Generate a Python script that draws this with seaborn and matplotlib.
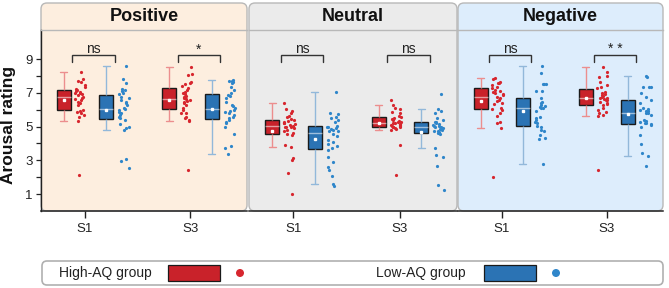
import numpy as np
import pandas as pd
import matplotlib
matplotlib.use("Agg")
import matplotlib.pyplot as plt
import seaborn as sns
from matplotlib.patches import FancyBboxPatch, Rectangle, Circle

# ---------------- data ----------------
valences = ["Positive", "Neutral", "Negative"]
sessions = ["S1", "S3"]
groups = ["High-AQ group", "Low-AQ group"]
sig_labels = {"Positive": ["ns", "*"], "Neutral": ["ns", "ns"], "Negative": ["ns", "* *"]}

pos_s1_high = [8.26, 7.82, 7.72, 7.65, 7.47, 7.37, 7.23, 7.17, 7.13, 7.07, 7.01, 6.97, 6.92, 6.88, 6.78,
               6.68, 6.62, 6.58, 6.48, 6.38, 6.28, 5.99, 5.93, 5.89, 5.79, 5.69, 5.55, 5.34, 2.14]
pos_s1_low = [8.59, 7.80, 7.57, 7.23, 7.17, 7.10, 6.97, 6.90, 6.78, 6.68, 6.58, 6.48, 6.38, 6.28, 6.09,
              6.05, 5.99, 5.89, 5.79, 5.69, 5.59, 5.50, 5.40, 5.16, 5.00, 4.90, 4.81, 3.09, 2.99, 2.54]
pos_s3_high = [8.51, 8.10, 8.06, 7.66, 7.57, 7.53, 7.41, 7.31, 7.17, 7.07, 6.97, 6.92, 6.82, 6.74, 6.68,
               6.62, 6.58, 6.54, 6.48, 6.38, 6.28, 6.09, 5.99, 5.83, 5.79, 5.59, 5.50, 5.40, 5.34, 2.44]
pos_s3_low = [7.76, 7.72, 7.70, 7.62, 7.57, 7.37, 7.17, 6.97, 6.88, 6.82, 6.68, 6.48, 6.28, 6.19, 6.09,
              5.99, 5.95, 5.89, 5.79, 5.69, 5.59, 5.50, 5.40, 5.30, 5.20, 5.00, 4.55, 3.86, 3.72, 3.37]
neu_s1_high = [6.42, 6.03, 5.95, 5.79, 5.63, 5.55, 5.44, 5.40, 5.36, 5.30, 5.24, 5.20, 5.15, 5.10, 5.04,
               5.00, 4.96, 4.95, 4.90, 4.81, 4.71, 4.61, 4.57, 4.50, 3.92, 3.82, 3.12, 3.03, 2.24, 1.02]
neu_s1_low = [7.07, 5.83, 5.75, 5.55, 5.50, 5.40, 5.30, 5.04, 4.96, 4.95, 4.90, 4.85, 4.81, 4.75, 4.71,
              4.57, 4.45, 4.21, 4.06, 3.95, 3.86, 3.72, 3.62, 3.19, 2.93, 2.60, 2.44, 2.08, 1.61, 1.51]
neu_s3_high = [6.58, 6.30, 6.09, 6.03, 5.89, 5.79, 5.63, 5.55, 5.50, 5.45, 5.40, 5.35, 5.30, 5.25, 5.24,
               5.20, 5.16, 5.12, 5.10, 5.04, 5.02, 5.00, 4.98, 4.96, 4.90, 4.85, 4.81, 3.90, 2.14]
neu_s3_low = [6.92, 6.05, 5.93, 5.83, 5.50, 5.40, 5.30, 5.25, 5.20, 5.15, 5.10, 5.05, 5.04, 5.00, 4.96,
              4.90, 4.85, 4.81, 4.75, 4.71, 4.65, 4.61, 4.57, 3.72, 3.33, 3.19, 2.64, 1.55, 1.26]
neg_s1_high = [7.90, 7.80, 7.66, 7.61, 7.57, 7.47, 7.37, 7.27, 7.17, 7.13, 7.07, 7.01, 6.94, 6.88, 6.78,
               6.68, 6.58, 6.54, 6.38, 6.34, 6.09, 6.03, 5.99, 5.79, 5.63, 5.30, 5.20, 4.90, 2.01]
neg_s1_low = [8.59, 8.20, 7.53, 7.53, 7.53, 7.13, 7.13, 6.68, 6.48, 6.42, 6.28, 6.19, 6.15, 6.10, 6.09,
              5.95, 5.59, 5.50, 5.40, 5.30, 5.24, 5.04, 4.96, 4.81, 4.71, 4.51, 4.31, 4.25, 2.79]
neg_s3_high = [8.51, 8.26, 8.00, 7.92, 7.66, 7.47, 7.37, 7.27, 7.07, 7.01, 6.95, 6.88, 6.82, 6.74, 6.70,
               6.68, 6.62, 6.58, 6.55, 6.48, 6.42, 6.34, 6.28, 6.09, 5.99, 5.89, 5.79, 5.69, 5.63, 2.44]
neg_s3_low = [8.00, 7.92, 7.37, 7.37, 7.37, 6.97, 6.74, 6.60, 6.38, 6.09, 6.03, 5.99, 5.95, 5.90, 5.83,
              5.79, 5.70, 5.40, 5.36, 5.30, 5.24, 5.20, 5.16, 5.10, 5.00, 4.51, 3.98, 3.42, 3.27, 2.64]

series = {
    ("Positive", "S1", "High-AQ group"): pos_s1_high,
    ("Positive", "S1", "Low-AQ group"): pos_s1_low,
    ("Positive", "S3", "High-AQ group"): pos_s3_high,
    ("Positive", "S3", "Low-AQ group"): pos_s3_low,
    ("Neutral", "S1", "High-AQ group"): neu_s1_high,
    ("Neutral", "S1", "Low-AQ group"): neu_s1_low,
    ("Neutral", "S3", "High-AQ group"): neu_s3_high,
    ("Neutral", "S3", "Low-AQ group"): neu_s3_low,
    ("Negative", "S1", "High-AQ group"): neg_s1_high,
    ("Negative", "S1", "Low-AQ group"): neg_s1_low,
    ("Negative", "S3", "High-AQ group"): neg_s3_high,
    ("Negative", "S3", "Low-AQ group"): neg_s3_low,
}

rows = []
for (v, s, g), vals in series.items():
    for y in vals:
        rows.append({"valence": v, "session": s, "group": g, "value": y})
df = pd.DataFrame(rows)
df["sidx"] = df["session"].map({s: i for i, s in enumerate(sessions)})

# ---------------- style ----------------
sns.set_theme(style="white")
plt.rcParams["font.family"] = ["Liberation Sans", "DejaVu Sans"]
np.random.seed(3)

box_col = {"High-AQ group": "#C9222A", "Low-AQ group": "#2B73B4"}
light_col = {"High-AQ group": "#EC8E8E", "Low-AQ group": "#92B8DA"}
dot_col = {"High-AQ group": "#D7262E", "Low-AQ group": "#2F86CA"}
box_off = {"High-AQ group": -0.20, "Low-AQ group": 0.20}
dot_off = {"High-AQ group": -0.04, "Low-AQ group": 0.37}
bg_col = {"Positive": "#FDEEDF", "Neutral": "#EBEBEB", "Negative": "#DDEDFC"}

df["xbox"] = df["sidx"] + df["group"].map(box_off)
df["xdot"] = df["sidx"] + df["group"].map(dot_off)

W, H = 669, 288
fig = plt.figure(figsize=(W / 100, H / 100), dpi=100)
inch = fig.dpi_scale_trans

panel_px = [(41, 247), (249, 457), (458, 663)]
top_px, strip_px, bot_px = 3, 30, 211
ytop = 10.72

for i, (val, (x0, x1)) in enumerate(zip(valences, panel_px)):
    # rounded panel background
    bg = FancyBboxPatch((x0 / 100, (H - bot_px) / 100), (x1 - x0) / 100, (bot_px - top_px) / 100,
                        boxstyle="round,pad=0,rounding_size=0.06", transform=inch,
                        facecolor=bg_col[val], edgecolor="#B8B8B8", linewidth=1.0, zorder=-5)
    fig.add_artist(bg)

    ax = fig.add_axes([x0 / W, 1 - bot_px / H, (x1 - x0) / W, (bot_px - strip_px) / H])
    ax.set_facecolor("none")
    sub = df[df["valence"] == val]
    for g in groups:
        s = sub[sub["group"] == g]
        sns.boxplot(data=s, x="xbox", y="value", native_scale=True, width=0.133,
                    color=box_col[g], saturation=1, linecolor="#1a1a1a", linewidth=1.0,
                    showfliers=False, showmeans=True,
                    whiskerprops={"color": light_col[g], "linewidth": 1.0},
                    capprops={"color": light_col[g], "linewidth": 1.0},
                    medianprops={"color": (1, 1, 1, 0.55), "linewidth": 1.0},
                    meanprops={"marker": "s", "markerfacecolor": "white",
                               "markeredgecolor": "white", "markersize": 2.0},
                    ax=ax)
        sns.stripplot(data=s, x="xdot", y="value", native_scale=True, jitter=0.055,
                      color=dot_col[g], size=2.3, linewidth=0, ax=ax)

    ax.set_xlim(-0.417, 1.536)
    ax.set_ylim(0, ytop)
    ax.set_xlabel("")
    ax.set_ylabel("")
    ax.set_xticks([0, 1])
    ax.set_xticklabels(sessions)
    ax.tick_params(axis="x", bottom=True, length=4.8, width=1.0, color="#222222",
                   pad=3.5, labelsize=9.5, labelcolor="#222222")
    for side in ["left", "right", "top", "bottom"]:
        ax.spines[side].set_visible(False)
    ax.spines["bottom"].set_visible(True)
    ax.spines["bottom"].set_color("#222222")
    ax.spines["bottom"].set_linewidth(1.1)
    ax.spines["top"].set_visible(True)
    ax.spines["top"].set_color("#B8B8B8")
    ax.spines["top"].set_linewidth(1.0)
    if i == 0:
        ax.spines["left"].set_visible(True)
        ax.spines["left"].set_color("#222222")
        ax.spines["left"].set_linewidth(1.0)
        ax.set_yticks([1, 3, 5, 7, 9])
        ax.set_yticks([2, 4, 6, 8], minor=True)
        ax.tick_params(axis="y", which="both", left=True, length=3.6, width=0.9,
                       color="#222222", pad=2.5, labelsize=9.5, labelcolor="#222222")
    else:
        ax.set_yticks([])
        ax.tick_params(axis="y", left=False, labelleft=False)

    # title in strip
    ax.text(0.5, 1 + 13.5 / (bot_px - strip_px), val, transform=ax.transAxes,
            ha="center", va="center", fontsize=13, fontweight="bold", color="#111111")

    # significance brackets
    for k, lab in enumerate(sig_labels[val]):
        xa, xb = k - 0.12, k + 0.28
        ax.plot([xa, xa, xb, xb], [8.85, 9.22, 9.22, 8.85], color="#333333", lw=1.0,
                solid_joinstyle="miter")
        ax.text((xa + xb) / 2, 9.34, lab, ha="center", va="baseline", fontsize=10,
                color="#222222")

# y label
fig.text(9 / W, 1 - 125 / H, "Arousal rating", rotation=90, ha="center", va="center",
         fontsize=12.5, fontweight="bold", color="#111111")

# legend box
leg = FancyBboxPatch((42 / 100, (H - 285) / 100), (663 - 42) / 100, (285 - 261) / 100,
                     boxstyle="round,pad=0,rounding_size=0.05", transform=inch,
                     facecolor="white", edgecolor="#B0B0B0", linewidth=1.2, zorder=1)
fig.add_artist(leg)
ly = 273
for g, tx, rx0, rx1, dx in [("High-AQ group", 59, 168, 220, 240),
                            ("Low-AQ group", 376, 484, 536, 556)]:
    fig.text(tx / W, 1 - ly / H, g, ha="left", va="center", fontsize=10, color="#222222")
    fig.add_artist(Rectangle((rx0 / 100, (H - 281) / 100), (rx1 - rx0) / 100, 16 / 100,
                             transform=inch, facecolor=box_col[g], edgecolor="#1a1a1a",
                             linewidth=0.9, zorder=2))
    fig.add_artist(Circle((dx / 100, (H - ly) / 100), 0.04, transform=inch,
                          facecolor=dot_col[g], edgecolor="none", zorder=2))

fig.savefig("out.png", dpi=100)
